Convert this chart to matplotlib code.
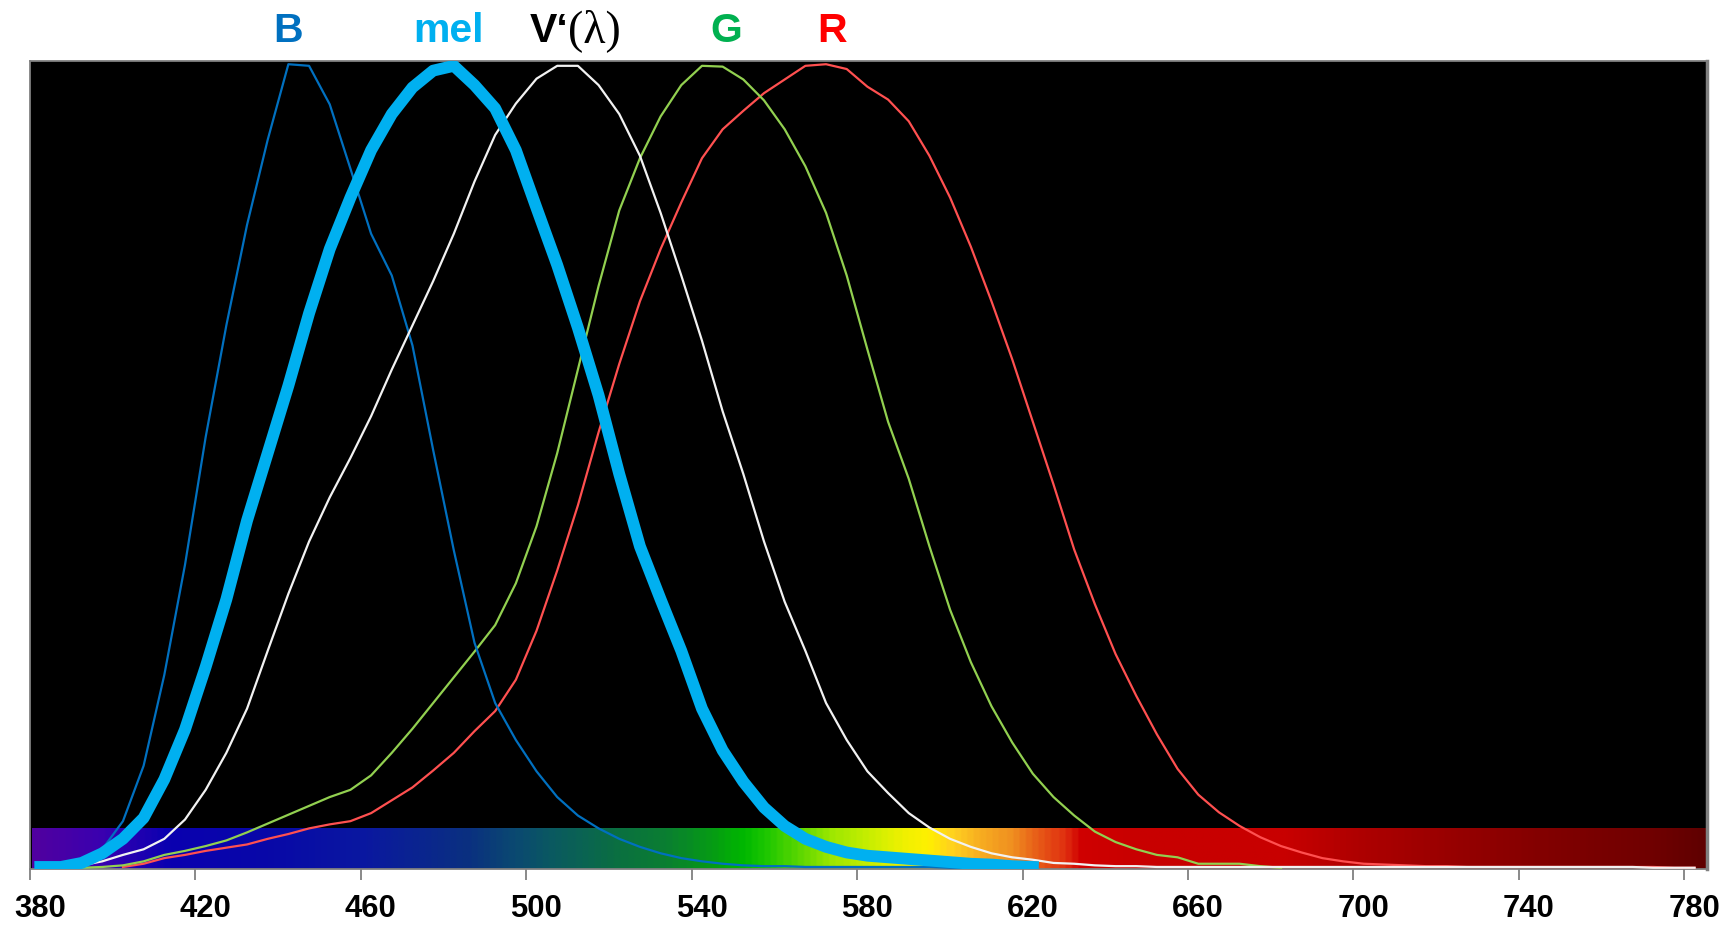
import numpy as np
import matplotlib
matplotlib.use("Agg")
import matplotlib.pyplot as plt
import matplotlib.transforms as mtrans
from matplotlib.colors import LinearSegmentedColormap

# wavelengths (nm), 5 nm steps
wl_b = np.arange(380, 620, 5)
b_vals = [0.001, 0.003, 0.010, 0.023, 0.058, 0.127, 0.240, 0.377, 0.536, 0.675,
          0.800, 0.906, 1.000, 0.998, 0.950, 0.870, 0.789, 0.737, 0.650, 0.520,
          0.395, 0.280, 0.205, 0.159, 0.120, 0.088, 0.065, 0.049, 0.036, 0.026,
          0.018, 0.012, 0.008, 0.005, 0.003, 0.002, 0.002, 0.001, 0.001, 0.001,
          0.001, 0.001, 0.001, 0.001, 0.000, 0.000, 0.000, 0.000]

wl_mel = np.arange(380, 625, 5)
mel_vals = [0.001, 0.001, 0.006, 0.018, 0.036, 0.062, 0.110, 0.172, 0.250, 0.334,
            0.432, 0.516, 0.600, 0.690, 0.770, 0.834, 0.893, 0.938, 0.971, 0.992,
            0.998, 0.974, 0.945, 0.893, 0.821, 0.750, 0.672, 0.588, 0.490, 0.400,
            0.334, 0.270, 0.198, 0.146, 0.107, 0.075, 0.052, 0.036, 0.026, 0.019,
            0.015, 0.013, 0.011, 0.009, 0.007, 0.005, 0.004, 0.002, 0.001]

wl_v = np.arange(380, 785, 5)
v_vals = [0.000, 0.001, 0.003, 0.008, 0.016, 0.023, 0.036, 0.060, 0.097, 0.143,
          0.198, 0.270, 0.341, 0.406, 0.461, 0.510, 0.562, 0.620, 0.675, 0.730,
          0.789, 0.854, 0.912, 0.951, 0.982, 0.998, 0.998, 0.974, 0.938, 0.886,
          0.815, 0.737, 0.656, 0.568, 0.490, 0.406, 0.331, 0.270, 0.205, 0.159,
          0.120, 0.093, 0.068, 0.050, 0.036, 0.026, 0.018, 0.013, 0.010, 0.006,
          0.005, 0.003, 0.002, 0.002, 0.001, 0.001, 0.001, 0.001, 0.001, 0.001,
          0.001, 0.001, 0.001, 0.001, 0.001, 0.001, 0.001, 0.001, 0.001, 0.001,
          0.001, 0.001, 0.001, 0.001, 0.001, 0.001, 0.001, 0.001, 0.000, 0.000,
          0.000]

wl_g = np.arange(390, 685, 5)
g_vals = [0.000, 0.001, 0.003, 0.008, 0.016, 0.021, 0.027, 0.034, 0.044, 0.055,
          0.066, 0.077, 0.088, 0.097, 0.115, 0.143, 0.173, 0.205, 0.237, 0.269,
          0.302, 0.354, 0.425, 0.516, 0.620, 0.724, 0.818, 0.883, 0.935, 0.974,
          0.998, 0.997, 0.981, 0.955, 0.919, 0.873, 0.815, 0.737, 0.645, 0.555,
          0.484, 0.400, 0.321, 0.256, 0.201, 0.156, 0.117, 0.088, 0.065, 0.045,
          0.032, 0.023, 0.016, 0.013, 0.005, 0.005, 0.005, 0.002, 0.000]

wl_r = np.arange(400, 785, 5)
r_vals = [0.001, 0.005, 0.012, 0.016, 0.021, 0.025, 0.029, 0.036, 0.042, 0.049,
          0.054, 0.058, 0.068, 0.084, 0.100, 0.121, 0.143, 0.170, 0.195, 0.234,
          0.295, 0.370, 0.451, 0.542, 0.627, 0.705, 0.770, 0.828, 0.883, 0.919,
          0.942, 0.964, 0.981, 0.998, 1.000, 0.994, 0.972, 0.956, 0.929, 0.886,
          0.834, 0.773, 0.705, 0.633, 0.555, 0.477, 0.396, 0.328, 0.266, 0.214,
          0.166, 0.123, 0.091, 0.069, 0.052, 0.038, 0.027, 0.019, 0.012, 0.008,
          0.005, 0.004, 0.003, 0.002, 0.002, 0.001, 0.001, 0.001, 0.001, 0.001,
          0.001, 0.001, 0.001, 0.001, 0.001, 0.000, 0.000]

tick_wl = np.arange(380, 781, 40)

# spectrum strip colour stops (nm, colour)
strip_nm = [380, 396, 412, 436, 460, 485, 497, 506, 514, 522, 534, 546, 552, 558,
            566, 574, 586, 591, 597, 603, 609, 617, 623, 630, 634, 647, 684, 700,
            724, 749, 773, 785]
strip_col = ["#5000a0", "#3a00b0", "#0a00b0", "#0808a8", "#0a18a0", "#0a3080",
             "#0a4a70", "#0a5a60", "#0a6550", "#0a7040", "#0a8030", "#05a010",
             "#00b800", "#20c800", "#60d800", "#a0e800", "#d8f000", "#f0f000",
             "#fff000", "#ffd020", "#f8b020", "#f09020", "#e86018", "#e03010",
             "#d00000", "#c80000", "#c80000", "#b00000", "#980000", "#800000",
             "#700000", "#600000"]

shift = 2.5  # points sit between category ticks

fig = plt.figure(figsize=(17.32, 9.27), dpi=100)
ax = fig.add_axes([0.01726, 0.0626, 0.9683, 0.8716])
ax.set_facecolor("black")

lo, hi = strip_nm[0], strip_nm[-1]
pos = [(n - lo) / (hi - lo) for n in strip_nm]
cmap = LinearSegmentedColormap.from_list("spec", list(zip(pos, strip_col)))
grad = np.linspace(0, 1, 800).reshape(1, -1)
ax.imshow(grad, cmap=cmap, aspect="auto", extent=[380.4, 785, -0.002, 0.049],
          zorder=1, interpolation="bilinear")

ax.plot(wl_r + shift, r_vals, color="#ff5050", lw=1.6, zorder=3)
ax.plot(wl_g + shift, g_vals, color="#92d050", lw=1.6, zorder=3)
ax.plot(wl_b + shift, b_vals, color="#0070c0", lw=1.6, zorder=3)
ax.plot(wl_v + shift, v_vals, color="#f2f2f2", lw=1.6, zorder=4)
ax.plot(wl_mel + shift, mel_vals, color="#00b0f0", lw=8.5, zorder=5,
        solid_joinstyle="round")

ax.set_xlim(380, 785.5)
ax.set_ylim(-0.0015, 1.004)
ax.set_yticks([])
ax.set_xticks(tick_wl)
ax.set_xticklabels([str(t) for t in tick_wl])
ax.tick_params(axis="x", direction="out", length=8, width=1.3, color="#808080",
               pad=10, labelsize=22.3)
nudge = mtrans.ScaledTranslation(10 / 100, 0, fig.dpi_scale_trans)
for lab in ax.get_xticklabels():
    lab.set_fontfamily("Liberation Sans")
    lab.set_fontweight("bold")
    lab.set_transform(lab.get_transform() + nudge)
for sp in ax.spines.values():
    sp.set_color("#808080")
    sp.set_linewidth(1.3)
ax.spines["right"].set_linewidth(2.5)

# curve labels above the plot
lab_y = 1.0235
tkw = dict(transform=ax.get_xaxis_transform(), va="baseline", clip_on=False,
           fontsize=29.5, fontweight="bold", family="Liberation Sans")
ax.text(442.4, lab_y, "B", color="#0070c0", ha="center", **tkw)
ax.text(481.2, lab_y, "mel", color="#00b0f0", ha="center", **tkw)
ax.text(510.2, lab_y, "V\u2018", color="black", ha="right", **tkw)
ax.text(510.2, lab_y, "(\u03bb)", color="black", ha="left",
        transform=ax.get_xaxis_transform(), va="baseline", clip_on=False,
        fontsize=33, family="Liberation Serif")
ax.text(548.3, lab_y, "G", color="#00b050", ha="center", **tkw)
ax.text(573.9, lab_y, "R", color="#ff0000", ha="center", **tkw)

fig.savefig("out.png", dpi=100, facecolor="white")
